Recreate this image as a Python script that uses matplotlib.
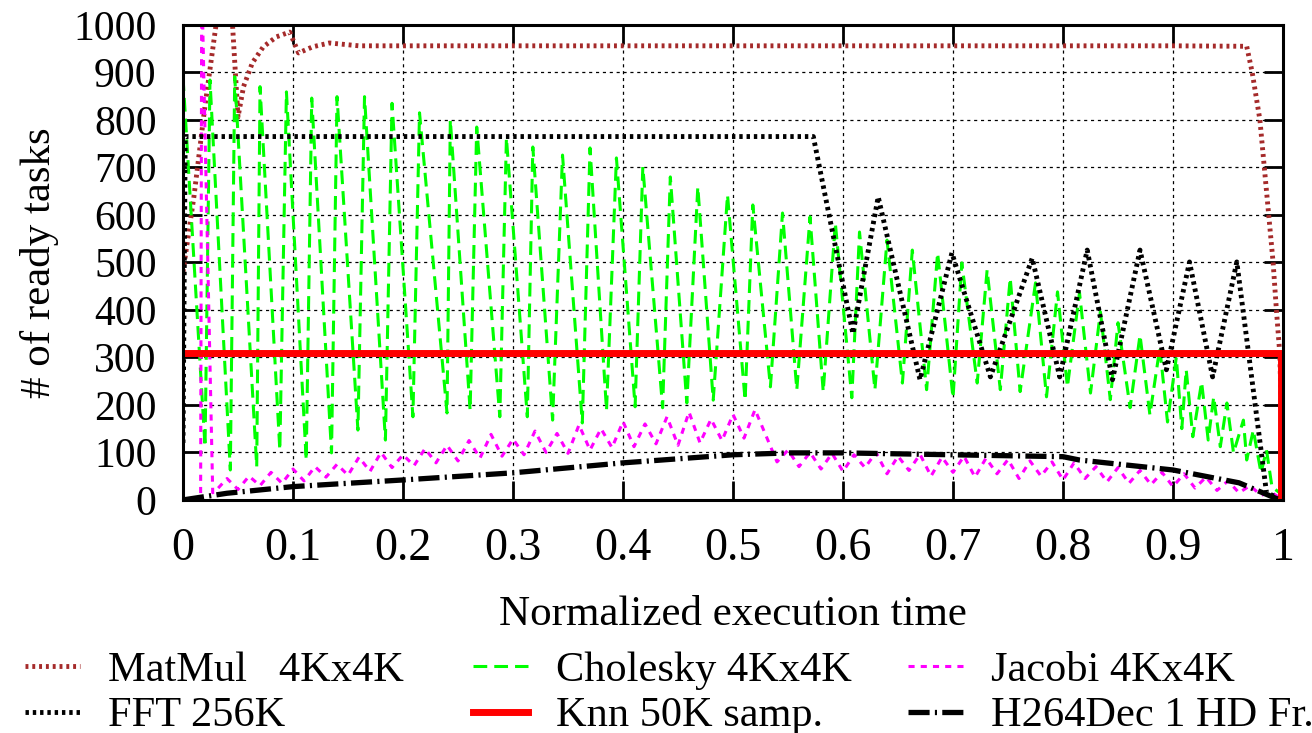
import matplotlib
matplotlib.use('Agg')
import matplotlib.pyplot as plt
import numpy as np
from matplotlib.lines import Line2D

plt.rcParams['font.family'] = ['Liberation Serif', 'DejaVu Serif']

# MatMul 4Kx4K
matmul_x = [0, 0.01, 0.02, 0.03, 0.037, 0.045, 0.05, 0.055, 0.063, 0.073, 0.085, 0.097,
            0.105, 0.118, 0.133, 0.16, 0.3, 0.5, 0.7, 0.9, 0.967, 0.972, 0.979, 0.983,
            0.987, 0.991, 0.994, 0.997, 0.999, 1.0]
matmul_y = [480, 640, 830, 1000, 1120, 1000, 806, 870, 920, 954, 975, 985,
            941, 954, 962, 956, 956, 956, 956, 956, 955, 900, 800, 700,
            600, 500, 400, 310, 150, 0]

# Cholesky 4Kx4K
chol_x = [0, 0.02, 0.0245, 0.043, 0.047, 0.067, 0.07, 0.088, 0.094, 0.112, 0.117, 0.135,
          0.14, 0.159, 0.165, 0.184, 0.19, 0.209, 0.215, 0.24, 0.243, 0.261, 0.267, 0.288,
          0.294, 0.313, 0.318, 0.336, 0.345, 0.363, 0.37, 0.385, 0.394, 0.411, 0.418, 0.436,
          0.443, 0.458, 0.468, 0.482, 0.495, 0.511, 0.518, 0.534, 0.545, 0.558, 0.57, 0.582,
          0.593, 0.608, 0.615, 0.629, 0.64, 0.654, 0.663, 0.676, 0.686, 0.70, 0.708, 0.722,
          0.731, 0.743, 0.752, 0.761, 0.775, 0.785, 0.795, 0.804, 0.815, 0.825, 0.834, 0.843,
          0.85, 0.861, 0.87, 0.879, 0.888, 0.895, 0.903, 0.908, 0.912, 0.918, 0.926, 0.932,
          0.937, 0.943, 0.949, 0.955, 0.964, 0.967, 0.973, 0.98, 0.985, 0.99, 0.997]
chol_y = [890, 112, 884, 63, 891, 70, 870, 105, 859, 84, 846, 99,
          849, 147, 849, 126, 835, 175, 815, 183, 800, 189, 785, 175,
          762, 175, 743, 168, 726, 162, 741, 189, 720, 196, 701, 194,
          680, 204, 659, 210, 642, 210, 621, 238, 604, 232, 596, 228,
          583, 215, 564, 232, 547, 246, 526, 232, 520, 215, 499, 246,
          484, 232, 467, 228, 457, 217, 438, 238, 436, 225, 396, 211,
          373, 194, 347, 179, 320, 164, 300, 150, 274, 133, 248, 126,
          217, 112, 204, 99, 168, 84, 147, 57, 105, 27, 15]

# Jacobi 4Kx4K
jac_x = [0, 0.016, 0.017, 0.027] + list(np.round(np.linspace(0.03, 1.0, 98), 3))
jac_y = [0, 0, 1100, 15,
         20, 45, 22, 50, 30, 58, 35, 65, 40, 70, 48, 75, 52, 90, 60, 100, 68, 95, 72, 108,
         78, 115, 82, 125, 88, 138, 92, 128, 95, 145, 100, 140, 98, 158, 105, 150, 110, 165,
         112, 160, 118, 175, 115, 185, 120, 170, 125, 180, 130, 190, 135,
         80, 105, 70, 100, 65, 98, 60, 95, 68, 100, 55, 92, 62, 96, 50, 90, 58, 92, 48, 88,
         55, 85, 45, 82, 50, 80, 42, 78, 45, 70, 38, 68, 35, 62, 32, 58, 28, 55, 25, 48,
         20, 40, 15, 30, 10, 15, 0]

# FFT 256K
fft_x = [0, 0.002, 0.573, 0.609, 0.632, 0.67, 0.699, 0.734, 0.772, 0.797, 0.822, 0.845,
         0.87, 0.894, 0.915, 0.936, 0.958, 0.985, 1.0]
fft_y = [120, 765, 765, 350, 638, 253, 520, 259, 509, 259, 526, 253,
         526, 274, 501, 259, 501, 15, 0]

# Knn 50K samp.
knn_x = [0, 0.998, 0.998]
knn_y = [310, 310, 0]

# H264Dec 1 HD Fr.
h264_x = [0, 0.04, 0.07, 0.1, 0.2, 0.3, 0.4, 0.5, 0.552, 0.6, 0.7, 0.8, 0.815, 0.9, 0.96, 0.997]
h264_y = [0, 14, 21, 28, 42, 57, 78, 95, 99, 99, 95, 91, 84, 63, 36, 0]

x_ticks = [0, 0.1, 0.2, 0.3, 0.4, 0.5, 0.6, 0.7, 0.8, 0.9, 1]
x_ticklabels = ['0', '0.1', '0.2', '0.3', '0.4', '0.5', '0.6', '0.7', '0.8', '0.9', '1']
y_ticks = [0, 100, 200, 300, 400, 500, 600, 700, 800, 900, 1000]

fig = plt.figure(figsize=(13.12, 7.33), dpi=100)
ax = fig.add_axes([0.1395, 0.318, 0.8384, 0.648])

# порядок отрисовки как в gnuplot
l_mat, = ax.plot(matmul_x, matmul_y, color='#a52a2a', lw=3.5, ls=(0, (0.6, 0.8)),
                 dash_capstyle='butt', label='MatMul   4Kx4K')
l_chol, = ax.plot(chol_x, chol_y, color='#00ff00', lw=2.2, ls=(0, (4.5, 2.3)),
                  dash_capstyle='butt', label='Cholesky 4Kx4K')
l_jac, = ax.plot(jac_x, jac_y, color='#ff00ff', lw=2.2, ls=(0, (2.0, 2.0)),
                 dash_capstyle='butt', label='Jacobi 4Kx4K')
l_fft, = ax.plot(fft_x, fft_y, color='black', lw=3.5, ls=(0, (0.7, 0.8)),
                 dash_capstyle='butt', label='FFT 256K')
l_knn, = ax.plot(knn_x, knn_y, color='#ff0000', lw=5, label='Knn 50K samp.')
l_h264, = ax.plot(h264_x, h264_y, color='black', lw=3.8, ls=(0, (4, 1, 0.4, 1)),
                  dash_capstyle='butt', label='H264Dec 1 HD Fr.')

ax.set_xlim(0, 1)
ax.set_ylim(0, 1000)
ax.set_xticks(x_ticks)
ax.set_xticklabels(x_ticklabels)
ax.set_yticks(y_ticks)
ax.tick_params(axis='x', labelsize=33, pad=20)
ax.tick_params(axis='y', labelsize=30, pad=19)
ax.tick_params(direction='in', length=14, width=2, top=True, right=True)
for s in ax.spines.values():
    s.set_linewidth(2.2)
ax.grid(True, color='black', lw=0.9, ls=(0, (2.5, 3)))
ax.set_axisbelow(True)

ax.set_xlabel('Normalized execution time', fontsize=31, labelpad=18)
ax.set_ylabel('# of ready tasks', fontsize=31, labelpad=10)

# легенда в три колонки под графиком
cols = [([l_mat, l_fft], 0.019), ([l_chol, l_knn], 0.3605), ([l_jac, l_h264], 0.692)]
for hs, xpos in cols:
    fig.legend(handles=hs, labels=[h.get_label() for h in hs], loc='upper left',
               bbox_to_anchor=(xpos, 0.112), frameon=False, fontsize=30.5,
               handlelength=1.3, handletextpad=0.65, labelspacing=0.17,
               borderaxespad=0, borderpad=0)

fig.savefig('out.png', dpi=100)
